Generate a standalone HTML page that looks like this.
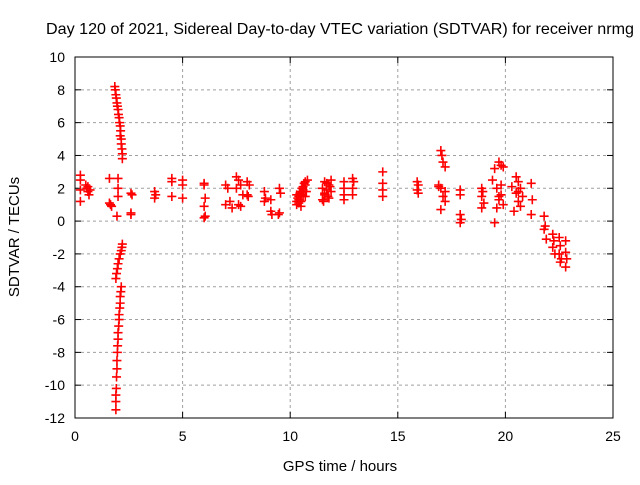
<!DOCTYPE html>
<html><head><meta charset="utf-8"><style>
body{margin:0;background:#fff}
svg text{font-family:"Liberation Sans",sans-serif;fill:#000}
</style></head><body>
<svg id="c" width="640" height="480">
<rect width="640" height="480" fill="#fff"/>
<text x="340" y="34" font-size="16" textLength="588" lengthAdjust="spacingAndGlyphs" text-anchor="middle">Day 120 of 2021, Sidereal Day-to-day VTEC variation (SDTVAR) for receiver nrmg</text>
<text x="340" y="471" font-size="15" text-anchor="middle">GPS time / hours</text>
<text x="19" y="237" font-size="15" text-anchor="middle" transform="rotate(-90 19 237)">SDTVAR / TECUs</text>
<g id="grid"></g><g id="ticks"></g><g id="pts"></g>
<rect x="75" y="57" width="538" height="361" fill="none" stroke="#000" stroke-width="1"/>
</svg>
<script>
const xTicks=[0,5,10,15,20,25];
const yTicks=[10,8,6,4,2,0,-2,-4,-6,-8,-10,-12];
const xs=[0.25,0.25,0.25,0.25,0.5,0.55,0.6,0.65,0.7,0.6,
1.6,1.6,1.65,1.7,
1.85,1.87,1.9,1.92,1.95,1.97,2.0,2.02,2.05,2.07,2.1,2.12,2.1,2.15,2.15,2.18,2.2,2.2,
2.0,2.0,2.0,1.95,
2.2,2.18,2.15,2.1,2.05,2.0,1.97,1.93,1.9,2.15,2.13,2.1,2.1,2.08,2.05,2.05,2.03,2.0,2.0,1.98,1.97,1.95,1.95,1.93,1.92,1.9,1.9,1.9,
2.6,2.65,2.6,2.6,3.7,3.75,3.7,4.5,4.5,4.5,5.0,5.0,5.0,
6.0,6.0,6.05,6.0,6.05,6.0,7.0,7.1,7.2,7.0,7.3,7.5,7.6,7.7,7.5,7.8,7.6,7.7,8.0,8.1,8.0,8.05,
8.8,8.85,8.8,9.1,9.1,9.15,9.5,9.55,9.5,9.45,
10.3,10.4,10.5,10.6,10.7,10.8,10.3,10.4,10.5,10.6,10.7,10.35,10.45,10.55,10.65,10.75,10.4,10.5,10.6,10.3,10.5,10.7,
11.5,11.6,11.7,11.8,11.9,11.5,11.6,11.75,11.9,11.55,11.7,11.85,11.6,11.8,
12.5,12.5,12.5,12.5,12.9,12.95,12.9,12.9,14.3,14.3,14.3,14.3,15.9,15.95,15.9,15.95,
17.0,17.05,17.1,17.2,16.9,17.0,17.1,17.2,16.9,17.0,17.2,
17.9,17.9,17.9,17.95,17.9,18.9,18.95,18.9,19.0,18.9,
19.7,19.8,19.9,19.5,19.4,19.6,19.8,19.7,19.9,19.6,19.8,19.5,19.7,
20.5,20.6,20.7,20.5,20.8,20.6,20.7,20.4,20.3,20.6,
21.2,21.25,21.2,21.8,21.85,21.8,21.9,22.2,22.25,22.2,22.3,22.5,22.55,22.5,22.6,22.55,22.8,22.8,22.85,22.8];
const ys=[2.8,2.5,1.9,1.2,2.2,2.0,1.8,1.6,1.9,2.1,
2.6,1.1,1.0,0.9,
8.2,8.0,7.7,7.5,7.2,7.0,6.8,6.5,6.3,6.0,5.8,5.5,5.2,5.0,4.7,4.4,4.1,3.8,
2.6,2.0,1.5,0.3,
-1.4,-1.6,-1.8,-2.0,-2.3,-2.6,-2.9,-3.2,-3.5,-4.0,-4.3,-4.6,-5.0,-5.3,-5.7,-6.0,-6.4,-6.8,-7.2,-7.6,-8.0,-8.5,-9.0,-9.5,-10.2,-10.6,-11.0,-11.5,
1.7,1.6,0.5,0.4,1.8,1.6,1.4,2.6,2.4,1.5,2.5,2.2,1.4,
2.3,2.2,1.4,0.9,0.3,0.2,2.2,2.0,1.2,1.0,0.8,2.7,2.5,2.2,2.0,1.6,1.0,0.9,2.4,2.2,1.6,1.5,
1.8,1.4,1.2,1.3,0.6,0.4,2.0,1.7,0.5,0.4,
1.2,1.5,1.8,2.1,2.4,2.5,1.0,1.3,1.6,1.9,2.2,1.4,1.7,2.0,2.3,1.8,1.1,1.2,1.5,1.6,0.9,1.5,
1.3,1.6,1.9,2.2,2.5,2.0,2.4,1.5,1.8,1.2,2.3,2.1,1.7,1.4,
2.4,2.0,1.6,1.3,2.6,2.4,2.0,1.6,3.0,2.3,1.9,1.5,2.4,2.2,1.9,1.7,
4.3,4.0,3.6,3.3,2.2,2.0,1.5,1.2,2.1,0.7,1.8,
1.9,1.6,0.4,0.1,-0.1,2.0,1.8,1.5,1.1,0.8,
3.6,3.4,3.3,3.2,2.5,2.0,1.6,1.3,1.0,0.8,2.2,-0.1,1.5,
2.7,2.4,2.0,1.7,1.5,1.2,0.9,0.6,2.1,1.8,
2.3,1.3,0.4,0.3,-0.3,-0.5,-1.1,-0.8,-1.2,-1.6,-2.0,-1.0,-1.5,-2.0,-2.3,-2.5,-1.2,-1.9,-2.3,-2.8];
const L=75,R=613,T=57,B=418;
const px=x=>L+(x-0)/25*(R-L);
const py=y=>T+(10-y)/22*(B-T);
const NS='http://www.w3.org/2000/svg';
const grid=document.getElementById('grid'),ticks=document.getElementById('ticks'),pts=document.getElementById('pts');
function mk(tag,a,p){const e=document.createElementNS(NS,tag);for(const k in a)e.setAttribute(k,a[k]);p.appendChild(e);return e;}
xTicks.forEach(v=>{const x=px(v);
 if(v>0&&v<25){const g=mk('line',{x1:x,x2:x,y1:T,y2:B,stroke:'#a0a0a0','stroke-dasharray':'3,3'},grid);
 
 }
 mk('line',{x1:x,x2:x,y1:B,y2:B-6,stroke:'#000'},ticks);mk('line',{x1:x,x2:x,y1:T,y2:T+6,stroke:'#000'},ticks);
 const t=mk('text',{x:x,y:B+23,'font-size':14,'text-anchor':'middle'},ticks);t.textContent=v;
 
 });
yTicks.forEach(v=>{const y=py(v);
 if(v<10&&v>-12){const g=mk('line',{x1:L,x2:R,y1:y,y2:y,stroke:'#a0a0a0','stroke-dasharray':'3,3'},grid);
 
 }
 mk('line',{x1:L,x2:L+6,y1:y,y2:y,stroke:'#000'},ticks);mk('line',{x1:R,x2:R-6,y1:y,y2:y,stroke:'#000'},ticks);
 const t=mk('text',{x:L-10,y:y+5,'font-size':14,'text-anchor':'end'},ticks);t.textContent=v;
 
 });
xs.forEach((x,i)=>{const cx=px(x),cy=py(ys[i]);
 const p=mk('path',{d:`M${cx-4.5},${cy}H${cx+4.5}M${cx},${cy-4.5}V${cy+4.5}`,stroke:'#f00','stroke-width':1.6,fill:'none'},pts);
 
 });
</script>
</body></html>
